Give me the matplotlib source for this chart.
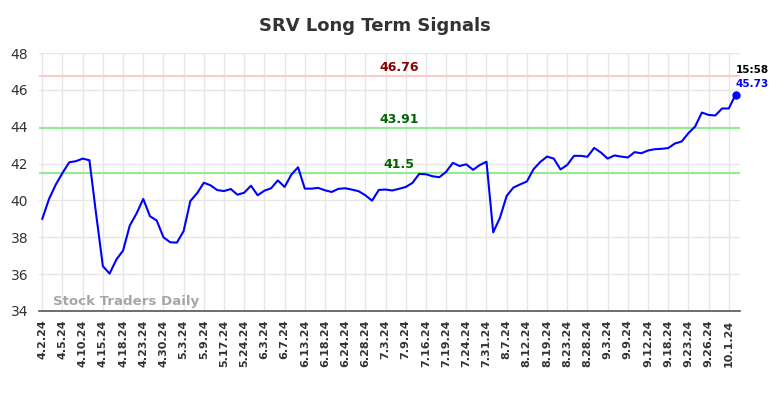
import matplotlib
matplotlib.use("Agg")
import matplotlib.pyplot as plt

title = "SRV Long Term Signals"
tick_labels = ["4.2.24", "4.5.24", "4.10.24", "4.15.24", "4.18.24", "4.23.24", "4.30.24",
               "5.3.24", "5.9.24", "5.17.24", "5.24.24", "6.3.24", "6.7.24", "6.13.24",
               "6.18.24", "6.24.24", "6.28.24", "7.3.24", "7.9.24", "7.16.24", "7.19.24",
               "7.24.24", "7.31.24", "8.7.24", "8.12.24", "8.19.24", "8.23.24", "8.28.24",
               "9.3.24", "9.9.24", "9.12.24", "9.18.24", "9.23.24", "9.26.24", "10.1.24"]
prices = [39.0, 40.08, 40.86, 41.49, 42.07, 42.13, 42.27, 42.18, 39.25, 36.43,
          36.03, 36.79, 37.28, 38.64, 39.29, 40.08, 39.14, 38.91, 38.0, 37.73,
          37.71, 38.34, 39.97, 40.39, 40.96, 40.82, 40.56, 40.51, 40.62, 40.31,
          40.42, 40.80, 40.28, 40.53, 40.66, 41.09, 40.73, 41.40, 41.80, 40.64,
          40.64, 40.68, 40.55, 40.46, 40.63, 40.66, 40.59, 40.50, 40.28, 39.99,
          40.57, 40.59, 40.54, 40.63, 40.73, 40.95, 41.44, 41.42, 41.31, 41.26,
          41.55, 42.04, 41.87, 41.96, 41.66, 41.92, 42.10, 38.27, 39.06, 40.25,
          40.70, 40.87, 41.03, 41.70, 42.09, 42.38, 42.27, 41.68, 41.93, 42.42,
          42.42, 42.37, 42.85, 42.60, 42.27, 42.44, 42.38, 42.33, 42.62, 42.56,
          42.71, 42.78, 42.80, 42.84, 43.09, 43.20, 43.65, 44.01, 44.77, 44.64,
          44.61, 44.99, 44.99, 45.73]
levels = [46.76, 43.91, 41.5]
level_line_colors = ["#ffcccc", "#90ee90", "#90ee90"]
level_text_colors = ["#8b0000", "#006400", "#006400"]
level_labels = ["46.76", "43.91", "41.5"]
last_time = "15:58"
last_price = "45.73"
watermark = "Stock Traders Daily"

fig = plt.figure(figsize=(7.84, 3.98), dpi=100)
ax = fig.add_axes([0.0501, 0.2186, 0.8938, 0.6482])

x = list(range(len(prices)))
for lv, lc in zip(levels, level_line_colors):
    ax.axhline(lv, color=lc, linewidth=1.5, zorder=1)
for lv, tc, lab in zip(levels, level_text_colors, level_labels):
    ax.text(53, lv + 0.12, lab, color=tc, fontsize=9, fontweight="bold",
            ha="center", va="bottom", zorder=4)

ax.plot(x, prices, color="blue", linewidth=1.5, zorder=3)
ax.plot(x[-1], prices[-1], "o", color="blue", markersize=5, zorder=4)
ax.annotate(last_time, (x[-1], prices[-1]), xytext=(0, 14), textcoords="offset points",
            fontsize=7.5, fontweight="bold", color="black", ha="left", va="bottom")
ax.annotate(last_price, (x[-1], prices[-1]), xytext=(0, 4.5), textcoords="offset points",
            fontsize=7.5, fontweight="bold", color="blue", ha="left", va="bottom")

ax.text(0.02, 0.01, watermark, transform=ax.transAxes, fontsize=9.6, fontweight="bold",
        color="#a6a6a6", ha="left", va="bottom", zorder=5)

ticks = list(range(0, len(prices), 3))[:len(tick_labels)]
ax.set_xticks(ticks)
ax.set_xticklabels(tick_labels, rotation=90, fontsize=8, fontweight="bold", color="#333333")
ax.set_yticks([34, 36, 38, 40, 42, 44, 46, 48])
ax.tick_params(axis="y", labelsize=10, colors="#333333", length=0, pad=8)
ax.tick_params(axis="x", length=0, pad=6)
ax.set_xlim(-0.45, len(prices) - 1 + 0.67)
ax.set_ylim(34, 48)
ax.grid(True, color="#e6e6e6", linewidth=1)
ax.set_axisbelow(True)
for s in ["top", "right", "left"]:
    ax.spines[s].set_visible(False)
ax.spines["bottom"].set_color("#555555")
ax.spines["bottom"].set_linewidth(1.2)

fig.text(375 / 784, 1 - 26 / 398, title, fontsize=13, fontweight="bold", color="#333333",
         ha="center", va="center")

fig.savefig("out.png", dpi=100)
